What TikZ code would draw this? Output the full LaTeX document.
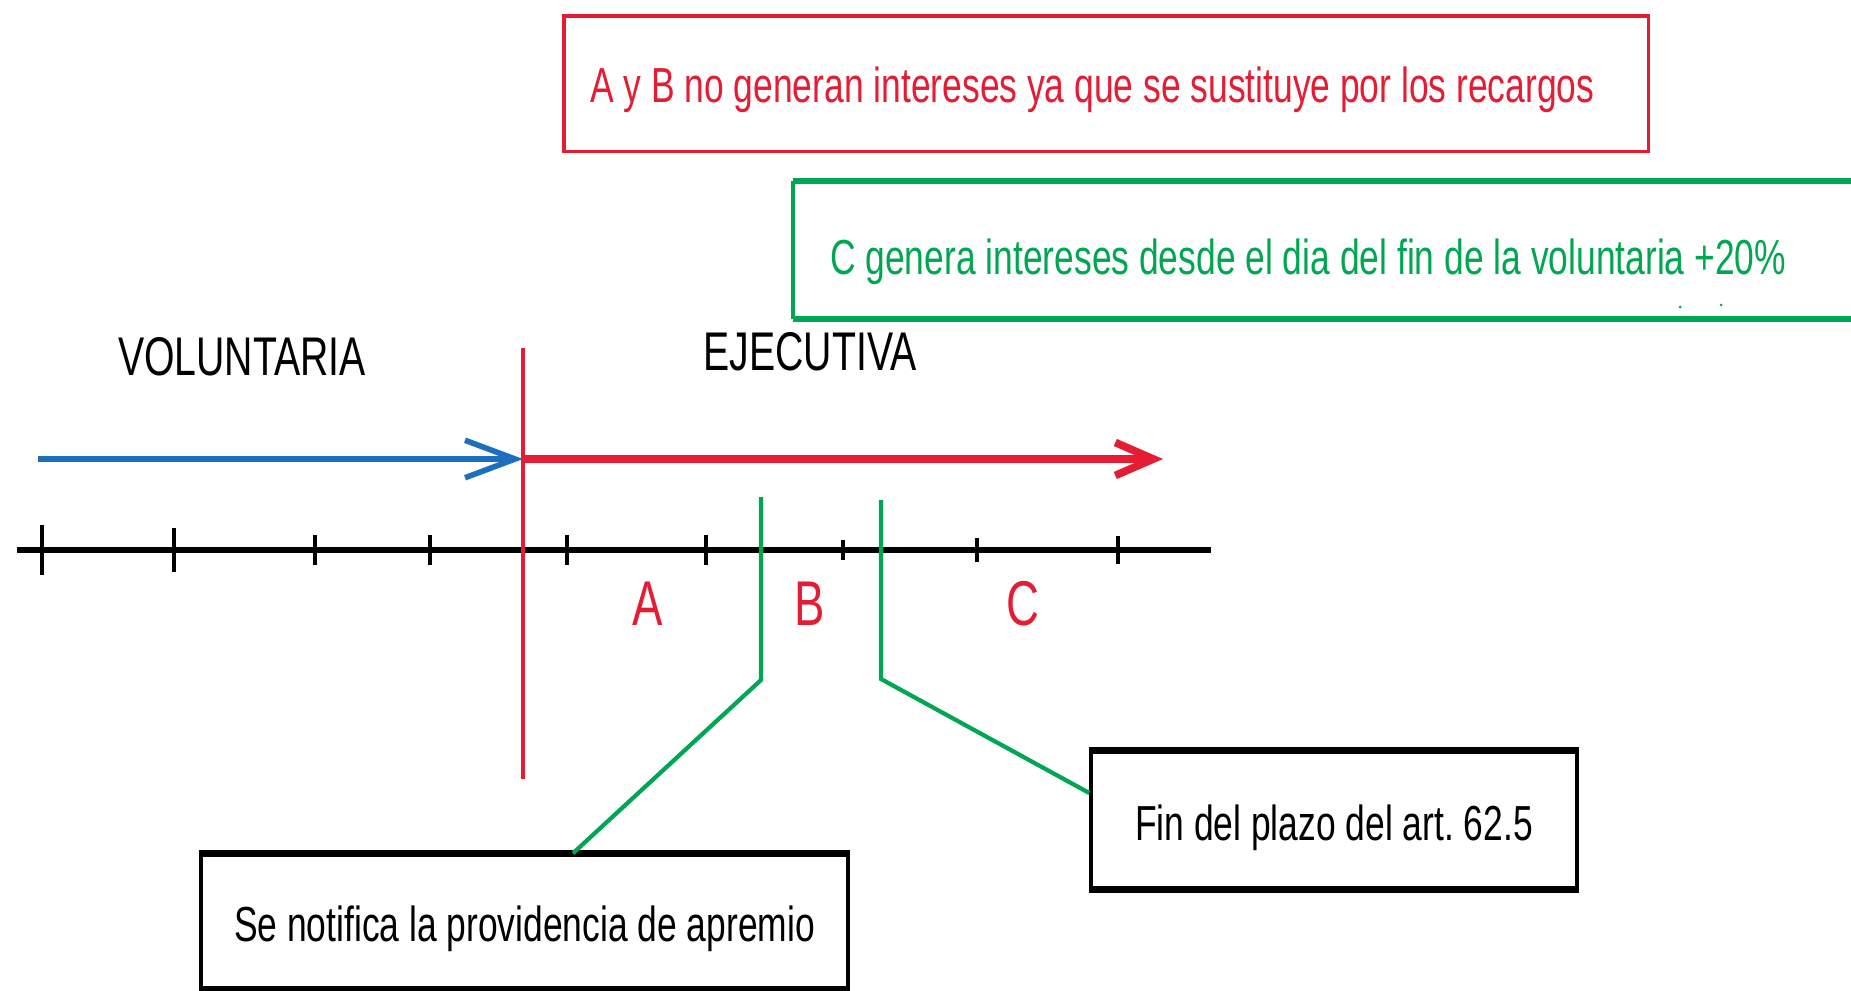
\documentclass[tikz,border=0pt]{standalone}
\usepackage{fontspec}
\setmainfont{Liberation Sans}[FakeStretch=0.72]
\usetikzlibrary{positioning,arrows.meta}

\definecolor{lred}{RGB}{228,28,52}
\definecolor{lgreen}{RGB}{0,166,81}
\definecolor{lblue}{RGB}{30,110,190}

\tikzset{
    every node/.style={font=\fontsize{28}{32}\selectfont},
    redbox/.style={draw=lred,line width=2pt},
    blackbox/.style={draw,line width=2pt,inner sep=0pt,align=center,text height=29pt,text depth=6pt},
    tramo/.style={text=lred,font=\fontsize{36}{40}\selectfont},
    fase/.style={font=\fontsize{31}{34}\selectfont},
    axis/.style={line width=3.3pt},
    marker/.style={lgreen,line width=2.4pt},
}

\begin{document}
\frenchspacing
\begin{tikzpicture}[x=0.02cm,y=-0.02cm]
        \useasboundingbox (0,0) rectangle (1851,990);
        \node[redbox,anchor=north west,minimum width=21.7cm,minimum height=2.72cm] (noint) at (562,14) {};
        \node[text=lred,anchor=west] (nointxt) at (584,90)
            {A y B no generan intereses ya que se sustituye por los recargos};
        \draw[lgreen,line width=3.6pt] (1860,181) -- (793,181) (793,319) -- (1860,319);
        \draw[lgreen,line width=2.2pt] (793,181) -- (793,319);
        \node[text=lgreen,anchor=west] (sint) at (824,262)
            {C genera intereses desde el dia del fin de la voluntaria +20\%};
        \fill[lgreen] (1680,307) circle (1.5) (1721,305) circle (1.5);

        \node[fase] (vol) at (242,357) {VOLUNTARIA};
        \node[tramo] (b) at (810,604) {B};
        \node[tramo,on grid,left=3.24cm of b] (a) {A};
        \node[tramo,on grid,right=4.26cm of b] (c) {C};
        \node[fase,on grid,above=5.04cm of b] (ejec) {EJECUTIVA};

        \coordinate (t0) at (17,550);
        \coordinate (t1) at (1211,550);
        \draw[axis] (t0) -- (t1);
        \foreach \x/\h in {42/25,174/22,315/15,430/15,567/15,706/15,843/10,977/12,1118/14}
            \draw[line width=1.9pt] (\x,550-\h) -- (\x,550+\h);

        \coordinate (vtop) at (523,348);
        \coordinate (vbot) at (523,779);
        \draw[lred,line width=2.2pt] (vtop) -- (vbot);
        \coordinate (vstart) at (38,459);
        \coordinate (cut) at (523,459);
        \coordinate (eend) at (1163,459);
        \draw[lblue,line width=3.4pt,-{Straight Barb[length=1cm,width=0.75cm,line width=3.2pt]}] (vstart) -- (cut);
        \draw[lred,line width=4.6pt,-{Straight Barb[length=0.76cm,width=0.66cm,line width=4.4pt]}] (cut) -- (eend);

        \node[blackbox,minimum width=12.94cm,minimum height=2.66cm] (apremio) at (524.5,921.5)
            {Se notifica la providencia de apremio};
        \node[blackbox,minimum width=9.72cm,minimum height=2.72cm] (plazo) at (1334,820)
            {Fin del plazo del art. 62.5};
        \foreach \n in {apremio,plazo}
            \draw[line width=3.8pt] (\n.north west) -- (\n.north east) (\n.south west) -- (\n.south east);

        \coordinate (m1) at (761,497);
        \coordinate (k1) at (761,680);
        \coordinate (m2) at (881,500);
        \coordinate (k2) at (881,679);
        \draw[marker] (m1) -- (k1) -- ([xshift=0.97cm]apremio.north);
        \draw[marker] (m2) -- (k2) -- ([yshift=0.54cm]plazo.west);
    \end{tikzpicture}
\end{document}
